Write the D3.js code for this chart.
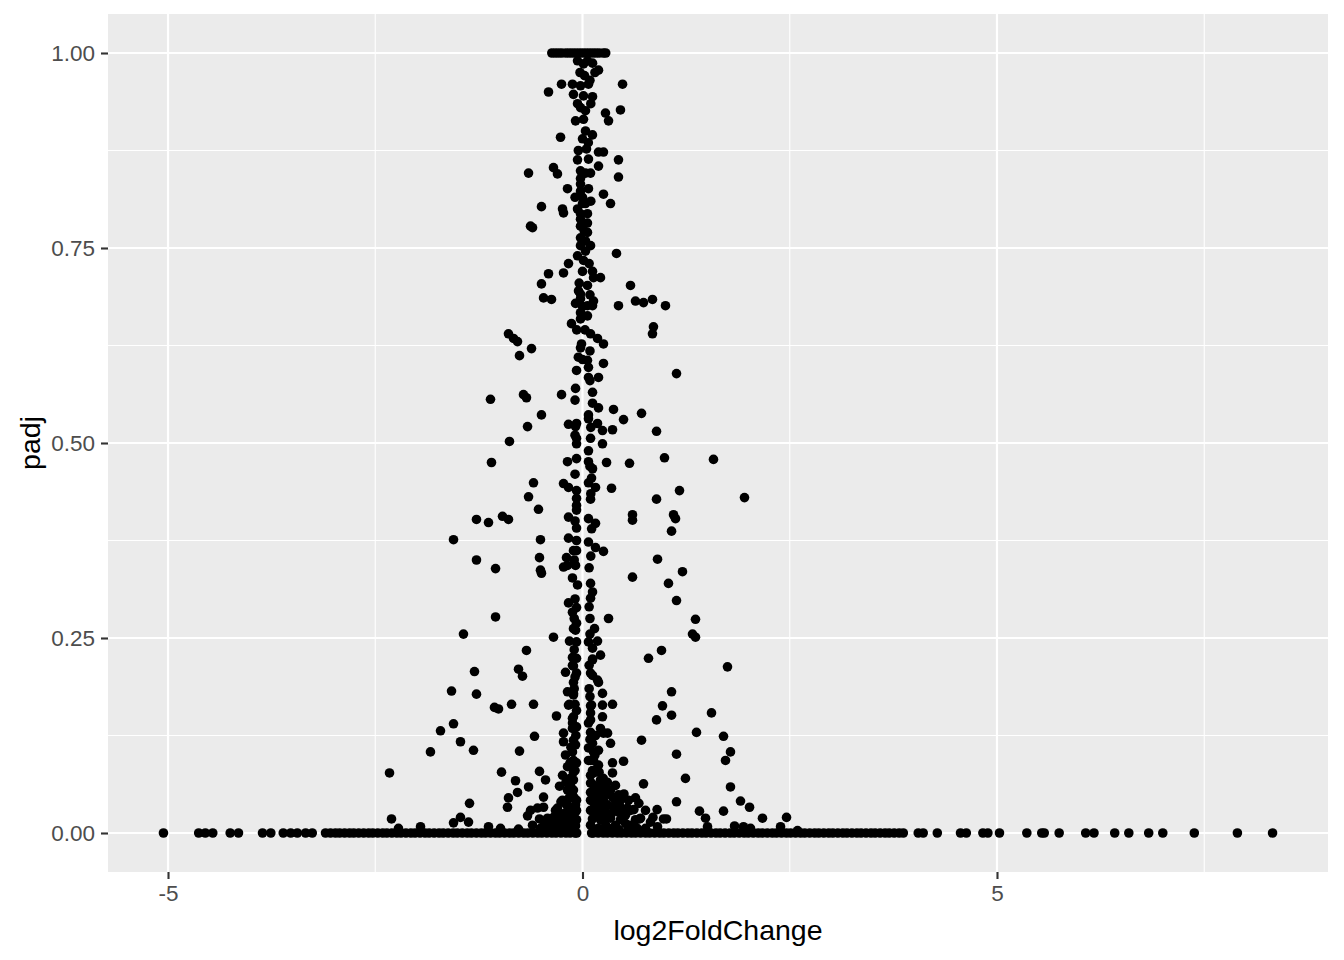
<!DOCTYPE html>
<html><head><meta charset="utf-8">
<script src="https://cdn.jsdelivr.net/npm/d3@7"></script>
<style>body{margin:0;background:#fff}svg{display:block}</style>
</head><body>
<svg id="chart" width="1344" height="960"></svg>
<script>
// ---- axis ticks ----
const xTicks = [-5, 0, 5];
const xTickLabels = ["-5", "0", "5"];
const xMinorTicks = [-2.5, 2.5, 7.5];
const yTicks = [0, 0.25, 0.5, 0.75, 1];
const yTickLabels = ["0.00", "0.25", "0.50", "0.75", "1.00"];
const yMinorTicks = [0.125, 0.375, 0.625, 0.875];
const xTitle = "log2FoldChange";
const yTitle = "padj";

// ---- data: genes with padj = 0 (log2FoldChange only) ----
const zeroPadjLfc = [-5.055,-4.63,-4.55,-4.46,-4.25,-4.15,-3.86,-3.76,-3.61,-3.52,-3.44,-3.34,-3.26,
-3.10,-3.04,-2.98,-2.93,-2.87,-2.81,-2.76,-2.70,-2.64,-2.58,-2.53,-2.47,-2.41,-2.36,-2.30,-2.24,-2.19,-2.13,-2.07,-2.02,
-1.96,-1.90,-1.85,-1.79,-1.73,-1.68,-1.62,-1.56,-1.51,-1.45,-1.39,-1.34,-1.28,-1.22,-1.17,-1.11,-1.05,-1.00,
-0.94,-0.88,-0.83,-0.77,-0.71,-0.66,-0.60,-0.54,-0.49,-0.43,-0.37,-0.32,-0.26,-0.20,-0.15,-0.09,-0.07,
0.11,0.13,0.19,0.25,0.30,0.36,0.42,0.47,0.53,0.59,0.64,0.70,0.76,0.81,0.87,0.93,0.98,1.04,1.10,1.15,1.21,1.27,1.32,1.38,1.44,1.49,
1.55,1.61,1.66,1.72,1.78,1.83,1.89,1.95,2.00,2.06,2.12,2.17,2.23,2.29,2.34,2.40,2.46,2.51,2.57,2.63,2.68,2.74,2.80,2.85,2.91,2.97,
3.02,3.08,3.14,3.19,3.25,3.31,3.36,3.42,3.48,3.53,3.59,3.65,3.70,3.76,3.82,3.87,
4.05,4.11,4.28,4.56,4.63,4.83,4.89,5.03,5.36,5.54,5.57,5.75,6.07,6.17,6.42,6.59,6.83,7.00,7.38,7.90,8.324];

// ---- data: genes with padj = 1 (log2FoldChange only) ----
const onePadjLfc = [-0.37,-0.33,-0.29,-0.25,-0.20,-0.16,-0.12,-0.08,-0.04,0.00,0.04,0.08,0.12,0.16,0.20,0.25,0.28];

// ---- data: [log2FoldChange, padj] ----
const upperPoints = [
[0.012,0.986],[0.121,0.987],[0.193,0.978],[0.024,0.971],[-0.410,0.950],[-0.253,0.960],[-0.121,0.960],[-0.024,0.958],[0.072,0.960],[-0.109,0.947],[0.012,0.945],[0.121,0.944],[0.483,0.960],[-0.024,0.930],[0.036,0.926],[-0.084,0.913],[0.012,0.915],[0.036,0.900],[0.277,0.923],[0.314,0.913],[0.458,0.927],[-0.265,0.892],[0.048,0.877],[0.193,0.873],[0.253,0.873],[-0.060,0.863],[0.072,0.864],[0.193,0.855],[0.434,0.863],[0.434,0.841],[-0.651,0.846],[-0.350,0.853],[-0.302,0.845],[-0.024,0.849],[0.036,0.846],[0.097,0.846],[-0.024,0.839],[-0.024,0.832],[-0.181,0.826],[-0.024,0.823],[0.072,0.826],[0.253,0.819],[0.338,0.807],[-0.495,0.803],[-0.241,0.800],[-0.229,0.795],[0.000,0.807],[0.036,0.807],[-0.024,0.794],[0.060,0.794],[-0.024,0.787],[0.060,0.782],[-0.024,0.778],[-0.627,0.778],[-0.603,0.776],[0.060,0.770],[-0.024,0.763],[0.036,0.759],[-0.024,0.753],[0.097,0.753],[0.036,0.746],[0.410,0.743],[0.012,0.734],[-0.169,0.730],[-0.229,0.718],[-0.410,0.717],[-0.495,0.704],[0.121,0.720],[0.217,0.712],[0.133,0.712],[0.579,0.702],[0.060,0.702],[-0.048,0.695],[-0.024,0.685],[-0.470,0.686],[-0.374,0.684],[0.133,0.682],[-0.084,0.679],[0.060,0.676],[0.434,0.676],[0.639,0.682],[0.736,0.680],[0.844,0.684],[1.001,0.676],[-0.024,0.691],[0.121,0.676],[-0.024,0.667],[0.060,0.663],[-0.024,0.659],[-0.133,0.653],[0.856,0.649],[0.844,0.640],[-0.893,0.640],[-0.832,0.634],[-0.784,0.630],[-0.615,0.621],[-0.760,0.612],[0.097,0.640],[0.181,0.634],[0.253,0.627],[-0.012,0.627],[-0.024,0.622],[0.000,0.607],[0.060,0.606],[0.253,0.602],
[-0.06,0.990],[0.06,0.990],[0.15,0.975],[-0.03,0.975],[0.09,0.965],[-0.06,0.935],[0.10,0.935],[0.00,0.890],[0.07,0.885],[-0.05,0.875],[0.12,0.895],[-0.09,0.815],[0.00,0.815],[0.10,0.810],[-0.06,0.800],[0.02,0.772],[-0.06,0.740],[0.08,0.730],[0.00,0.720],[-0.04,0.705],[0.09,0.690],[0.00,0.675],[-0.07,0.645],[0.03,0.645],[0.09,0.618],[-0.05,0.610]
];
const middlePoints = [
[0.072,0.597],[-0.072,0.593],[0.072,0.584],[0.193,0.584],[1.134,0.589],[-0.084,0.570],[0.121,0.565],[-0.253,0.562],[-1.110,0.556],[-0.712,0.562],[-0.676,0.558],[0.121,0.551],[0.193,0.545],[0.374,0.543],[0.712,0.538],[-0.495,0.536],[0.072,0.536],[0.072,0.531],[0.495,0.530],[-0.663,0.521],[-0.169,0.524],[-0.072,0.525],[-0.084,0.521],[0.181,0.525],[0.241,0.516],[0.362,0.517],[0.893,0.515],[-0.881,0.502],[-0.072,0.506],[0.097,0.506],[0.241,0.499],[-0.072,0.499],[0.072,0.490],[-1.098,0.475],[-0.181,0.476],[-0.072,0.480],[0.072,0.476],[0.121,0.467],[0.290,0.475],[0.567,0.474],[0.989,0.481],[-0.591,0.449],[-0.229,0.448],[-0.169,0.443],[0.072,0.449],[0.109,0.455],[0.157,0.443],[-0.072,0.439],[0.350,0.442],[1.170,0.439],[-0.651,0.431],[-0.072,0.429],[0.097,0.428],[-0.072,0.420],[0.893,0.428],[-0.531,0.415],[-0.072,0.414],[-0.169,0.405],[0.072,0.403],[0.157,0.397],[-1.279,0.402],[-1.134,0.398],[-0.965,0.406],[-0.893,0.402],[0.603,0.408],[0.603,0.401],[1.098,0.408],[1.122,0.403],[1.074,0.387],[-0.072,0.391],[-0.169,0.378],[-0.072,0.375],[-1.556,0.376],[-0.507,0.376],[0.072,0.373],[0.157,0.366],[0.253,0.361],[-0.109,0.362],[-0.072,0.362],[-1.279,0.350],[-0.519,0.353],[-0.193,0.353],[0.905,0.351],[-1.049,0.339],[-0.229,0.341],[-0.084,0.343],[-0.507,0.337],[1.580,0.479],[1.954,0.430],[1.206,0.335],[-0.495,0.333],[-0.181,0.343],
[0.09,0.580],[-0.09,0.555],[0.10,0.520],[-0.09,0.510],[0.09,0.470],[-0.09,0.460],[0.10,0.435],[-0.09,0.400],[0.11,0.390],[0.10,0.355],[-0.10,0.350],[0.08,0.340]
];
const lowerPoints = [
[1.037,0.320],[0.603,0.328],[1.134,0.298],[0.314,0.275],[1.363,0.274],[1.327,0.255],[1.363,0.251],[0.953,0.234],[0.796,0.224],[1.749,0.213],[1.074,0.181],[0.965,0.163],[1.074,0.151],[0.893,0.145],[1.556,0.154],[0.362,0.165],[1.375,0.129],[1.701,0.124],[0.712,0.119],[1.785,0.104],[1.725,0.093],[1.134,0.101],[0.495,0.092],[0.362,0.090],[1.242,0.070],[0.736,0.063],[1.785,0.059],
[-0.121,0.327],[-0.060,0.318],[0.097,0.320],[0.121,0.309],[0.097,0.301],[-0.169,0.295],[-0.072,0.289],[-0.121,0.283],[-1.049,0.277],[-1.436,0.255],[-0.350,0.251],[-0.072,0.269],[-0.109,0.262],[0.145,0.262],[-0.157,0.246],[-0.072,0.245],[0.072,0.245],[0.181,0.246],[0.121,0.237],[-0.676,0.234],[-0.121,0.225],[-0.072,0.224],[0.217,0.228],[-0.121,0.215],[0.121,0.222],[-1.303,0.207],[-0.772,0.210],[-0.724,0.201],[-0.205,0.206],[-0.072,0.205],[0.097,0.205],[0.181,0.196],[-0.109,0.193],[-1.580,0.182],[-1.279,0.178],[-0.181,0.181],[-0.109,0.177],[0.241,0.179],[-1.062,0.161],[-1.013,0.159],[-0.856,0.165],[-0.591,0.165],[-0.157,0.165],[0.109,0.164],[0.241,0.164],[-0.314,0.150],[-0.121,0.147],[0.097,0.154],[0.241,0.149],[-1.556,0.140],[-1.713,0.131],[-0.229,0.128],[-0.121,0.134],[-0.109,0.119],[0.097,0.129],[0.253,0.128],[0.338,0.115],[0.121,0.115],[-0.229,0.117],[-0.579,0.124],[-1.472,0.117],[-1.315,0.106],[-1.834,0.104],[-0.760,0.105],[-0.121,0.104],[-0.109,0.093],[0.133,0.104],[0.133,0.093],[-2.328,0.077],[-0.977,0.078],[-0.519,0.079],[-0.181,0.085],[-0.109,0.078],[0.157,0.081],[0.362,0.077],[-0.446,0.068],[-0.808,0.067],[-0.651,0.059],[-0.277,0.060],[-0.109,0.068],[0.097,0.064],[0.277,0.058],[0.253,0.059],[0.133,0.077],[0.109,0.064],[0.193,0.106],[0.072,0.093],[0.072,0.109],[0.217,0.134],[0.302,0.128],[0.072,0.141],[-0.072,0.136],[-0.121,0.141],[-0.109,0.149],[-0.169,0.164],[0.097,0.163],[-0.109,0.179],[0.193,0.193],[0.121,0.202],[-0.109,0.214],[0.121,0.223],[-0.109,0.225],[-0.084,0.260],[-0.181,0.055],[-0.109,0.055],
[0.097,0.145],[0.157,0.125],[0.097,0.093],[0.193,0.087],[0.097,0.074],[0.217,0.068],[0.157,0.049],[0.338,0.055],[0.398,0.061],[-0.084,0.113],[-0.205,0.100],[-0.145,0.061],[-0.072,0.090],[-0.241,0.074],[-0.072,0.157],
[-0.09,0.300],[0.08,0.290],[-0.10,0.275],[0.09,0.275],[-0.10,0.235],[0.09,0.255],[0.08,0.215],[-0.09,0.200],[0.08,0.185],[-0.10,0.185],[0.09,0.175],[-0.09,0.165],[0.09,0.120],[-0.08,0.125],[-0.14,0.110],[0.15,0.100],[-0.15,0.090],[0.12,0.080],[-0.09,0.080],[0.20,0.078],[-0.20,0.065],[0.25,0.070],[0.30,0.065],[-0.15,0.070],[0.15,0.060]
];
const nearZeroPoints = [
[0.434,0.049],[0.639,0.045],[1.134,0.040],[1.906,0.041],[2.015,0.033],[1.411,0.028],[1.484,0.019],[1.701,0.028],[2.171,0.019],[2.461,0.020],[0.688,0.018],[0.977,0.018],[1.013,0.018],[0.905,0.008],[1.834,0.009],[1.942,0.008],[2.027,0.006],[2.389,0.008],[2.594,0.003],[1.508,0.008],
[-0.784,0.052],[-0.893,0.045],[-0.905,0.033],[-0.470,0.046],[-0.470,0.033],[-0.543,0.032],[-0.302,0.032],[-1.363,0.038],[-0.181,0.042],[0.181,0.046],[0.097,0.042],[0.302,0.036],[0.458,0.033],[0.579,0.029],[0.700,0.019],[-0.627,0.029],[-0.663,0.022],[-0.519,0.018],[-0.422,0.019],[-1.472,0.020],[-1.556,0.013],[-1.375,0.014],[-2.304,0.018],[-2.220,0.006],[-1.954,0.008],[-1.134,0.008],[-0.989,0.006],[-0.772,0.005],[-0.603,0.010],[-0.326,0.029],[-0.241,0.042],[0.374,0.033],[0.543,0.032],
[-0.265,0.017],[-0.205,0.023],[-0.145,0.029],[-0.084,0.036],[-0.072,0.042],[-0.121,0.049],[-0.084,0.027],[-0.229,0.009],[-0.145,0.009],[-0.084,0.009],[-0.072,0.017],[-0.072,0.029],[-0.314,0.010],[-0.410,0.006],[-0.507,0.006],[-0.350,0.020],[-0.193,0.036],[0.097,0.029],[0.157,0.023],[0.217,0.017],[0.277,0.027],[0.338,0.019],[0.398,0.010],[0.458,0.017],[0.519,0.023],[0.579,0.010],[0.639,0.017],[0.097,0.010],[0.193,0.006],[0.314,0.006],[0.434,0.027],[0.217,0.036],[0.362,0.046],[0.458,0.042],[0.097,0.052],[0.181,0.058],[0.253,0.042],[0.760,0.006],[0.820,0.014],[0.555,0.042],[0.760,0.029],
[-0.10,0.045],[-0.16,0.045],[-0.22,0.025],[-0.28,0.025],[-0.18,0.015],[-0.12,0.020],[-0.10,0.005],[-0.20,0.004],[-0.30,0.004],[-0.26,0.040],[-0.36,0.012],[-0.46,0.012],[0.13,0.040],[0.12,0.018],[0.15,0.033],[0.20,0.028],[0.25,0.018],[0.28,0.010],[0.35,0.025],[0.40,0.040],[0.48,0.025],[0.52,0.012],[0.62,0.030],[0.66,0.006],[0.14,0.005],[0.24,0.004],[0.44,0.004],[0.55,0.004],[0.68,0.038],[0.50,0.050],[0.30,0.050],[0.22,0.052],[0.85,0.020],[0.90,0.030]
];

// ---- build table ----
const genes = [].concat(
  zeroPadjLfc.map(v => ({lfc: v, padj: 0})),
  onePadjLfc.map(v => ({lfc: v, padj: 1})),
  upperPoints.map(d => ({lfc: d[0], padj: d[1]})),
  middlePoints.map(d => ({lfc: d[0], padj: d[1]})),
  lowerPoints.map(d => ({lfc: d[0], padj: d[1]})),
  nearZeroPoints.map(d => ({lfc: d[0], padj: d[1]}))
);

// ---- layout ----
const P = {left: 108, right: 1328, top: 14, bottom: 872};
const FONT = "'Liberation Sans', Arial, Helvetica, sans-serif";
const svg = d3.select("#chart");

const xLo = d3.min(genes, d => d.lfc), xHi = d3.max(genes, d => d.lfc);
const xPad = (xHi - xLo) * 0.05;
const x = d3.scaleLinear().domain([xLo - xPad, xHi + xPad]).range([P.left, P.right]);
const y = d3.scaleLinear().domain([-0.05, 1.05]).range([P.bottom, P.top]);

svg.append("rect").attr("x", P.left).attr("y", P.top)
  .attr("width", P.right - P.left).attr("height", P.bottom - P.top).attr("fill", "#EBEBEB");

const grid = svg.append("g");
grid.selectAll(".xminor").data(xMinorTicks).join("line")
  .attr("x1", d => x(d)).attr("x2", d => x(d)).attr("y1", P.top).attr("y2", P.bottom)
  .attr("stroke", "#fff").attr("stroke-width", 1.1);
grid.selectAll(".yminor").data(yMinorTicks).join("line")
  .attr("y1", d => y(d)).attr("y2", d => y(d)).attr("x1", P.left).attr("x2", P.right)
  .attr("stroke", "#fff").attr("stroke-width", 1.1);
grid.selectAll(".xmajor").data(xTicks).join("line")
  .attr("x1", d => x(d)).attr("x2", d => x(d)).attr("y1", P.top).attr("y2", P.bottom)
  .attr("stroke", "#fff").attr("stroke-width", 2.2);
grid.selectAll(".ymajor").data(yTicks).join("line")
  .attr("y1", d => y(d)).attr("y2", d => y(d)).attr("x1", P.left).attr("x2", P.right)
  .attr("stroke", "#fff").attr("stroke-width", 2.2);

// points
svg.append("g").selectAll("circle").data(genes).join("circle")
  .attr("cx", d => x(d.lfc)).attr("cy", d => y(d.padj)).attr("r", 4.8).attr("fill", "#000");

// axes
const xAxis = d3.axisBottom(x).tickValues(xTicks).tickFormat((d, i) => xTickLabels[i]).tickSize(7).tickPadding(6);
const gx = svg.append("g").attr("transform", `translate(0,${P.bottom})`).call(xAxis);
const yAxis = d3.axisLeft(y).tickValues(yTicks).tickFormat((d, i) => yTickLabels[i]).tickSize(7).tickPadding(6);
const gy = svg.append("g").attr("transform", `translate(${P.left},0)`).call(yAxis);
[gx, gy].forEach(g => {
  g.select(".domain").remove();
  g.selectAll(".tick line").attr("stroke", "#333333").attr("stroke-width", 2.1);
  g.selectAll(".tick text").attr("fill", "#4D4D4D").style("font-family", FONT).style("font-size", "22.5px");
});

svg.append("text").attr("x", (P.left + P.right) / 2).attr("y", 940)
  .attr("text-anchor", "middle").style("font-family", FONT).style("font-size", "28.5px").attr("fill", "#000")
  .text(xTitle);
svg.append("text").attr("transform", `translate(40,${(P.top + P.bottom) / 2}) rotate(-90)`)
  .attr("text-anchor", "middle").style("font-family", FONT).style("font-size", "28.5px").attr("fill", "#000")
  .text(yTitle);
</script>
</body></html>
